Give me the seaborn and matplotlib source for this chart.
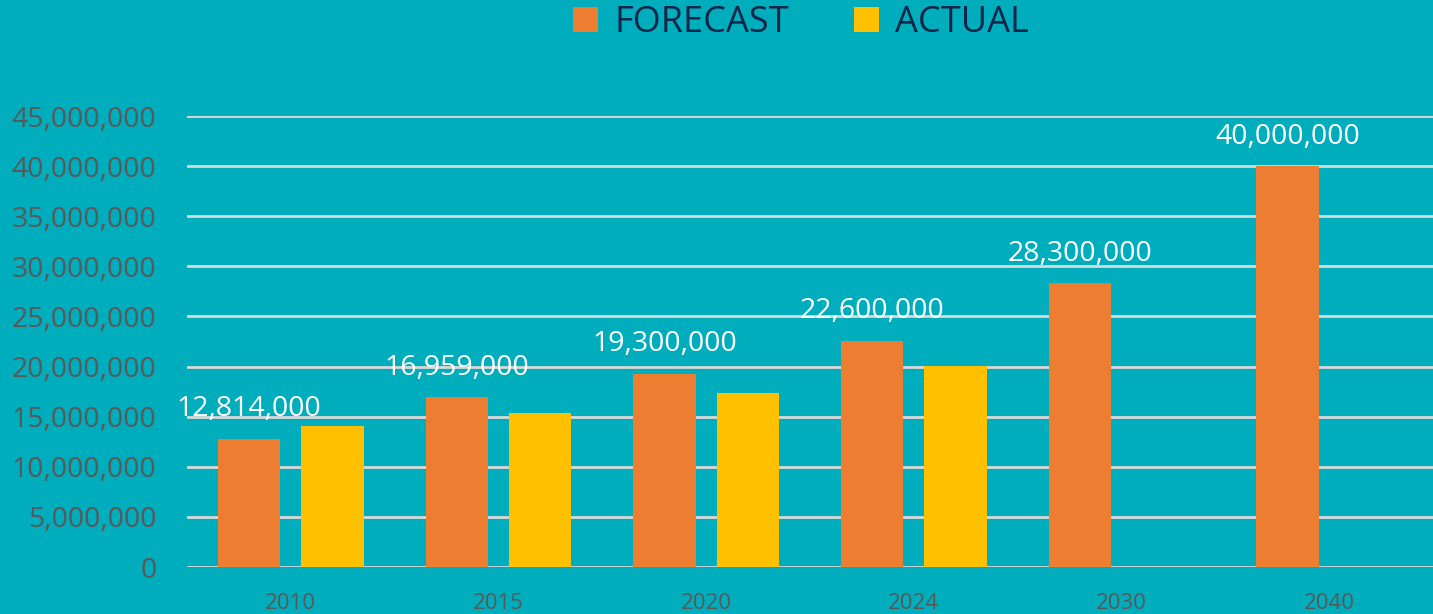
import matplotlib
matplotlib.use("Agg")
import matplotlib.pyplot as plt
import seaborn as sns
import pandas as pd
import numpy as np
from matplotlib.patches import Patch
from matplotlib.ticker import FuncFormatter, MultipleLocator

years = ["2010", "2015", "2020", "2024", "2030", "2040"]
forecast = [12814000, 16959000, 19300000, 22600000, 28300000, 40000000]
actual = [14100000, 15350000, 17350000, 20050000, np.nan, np.nan]
series = ["FORECAST", "ACTUAL"]
colors = ["#ED7D31", "#FFC000"]

df = pd.DataFrame({
    "year": years * 2,
    "value": forecast + actual,
    "series": [series[0]] * len(years) + [series[1]] * len(years),
})

bg = "#00ADBD"
sns.set_theme(style="white")
plt.rcParams["font.family"] = ["Open Sans", "DejaVu Sans"]

fig = plt.figure(figsize=(14.33, 6.14), dpi=100, facecolor=bg)
ax = fig.add_axes([0.1305, 0.0765, 0.8695, 0.7345])
ax.set_facecolor(bg)

sns.barplot(data=df, x="year", y="value", hue="series", order=years,
            hue_order=series, palette=colors, width=0.8, gap=0.25,
            saturation=1, ax=ax, legend=False, zorder=3, linewidth=0,
            edgecolor="none")

ax.set_ylim(0, 45000000)
ax.set_xlim(-0.5, len(years) - 0.5)
ax.yaxis.set_major_locator(MultipleLocator(5000000))
ax.yaxis.set_major_formatter(FuncFormatter(lambda v, p: f"{int(v):,}"))
ax.grid(axis="y", color="#D9D9D9", linewidth=2, zorder=0)
ax.set_axisbelow(True)
for s in ax.spines.values():
    s.set_visible(False)
ax.set_xlabel("")
ax.set_ylabel("")
ax.tick_params(axis="y", length=0, pad=22, labelsize=20.5, labelcolor="#595959")
ax.tick_params(axis="x", length=0, pad=19, labelsize=16, labelcolor="#595959")

# data labels on forecast bars
for bar, v in zip(ax.containers[0], forecast):
    ax.annotate(f"{v:,}", (bar.get_x() + bar.get_width() / 2, bar.get_height()),
                xytext=(0, 11), textcoords="offset points", ha="center",
                va="bottom", color="white", fontsize=20.5)

handles = [Patch(facecolor=c, edgecolor="none") for c in colors]
fig.legend(handles, series, loc="upper center", bbox_to_anchor=(0.559, 1.045),
           ncol=2, frameon=False, fontsize=26, labelcolor="#0D2548",
           handlelength=0.7, handleheight=0.7, handletextpad=0.45,
           columnspacing=1.8)

fig.savefig("out.png", dpi=100, facecolor=bg)
